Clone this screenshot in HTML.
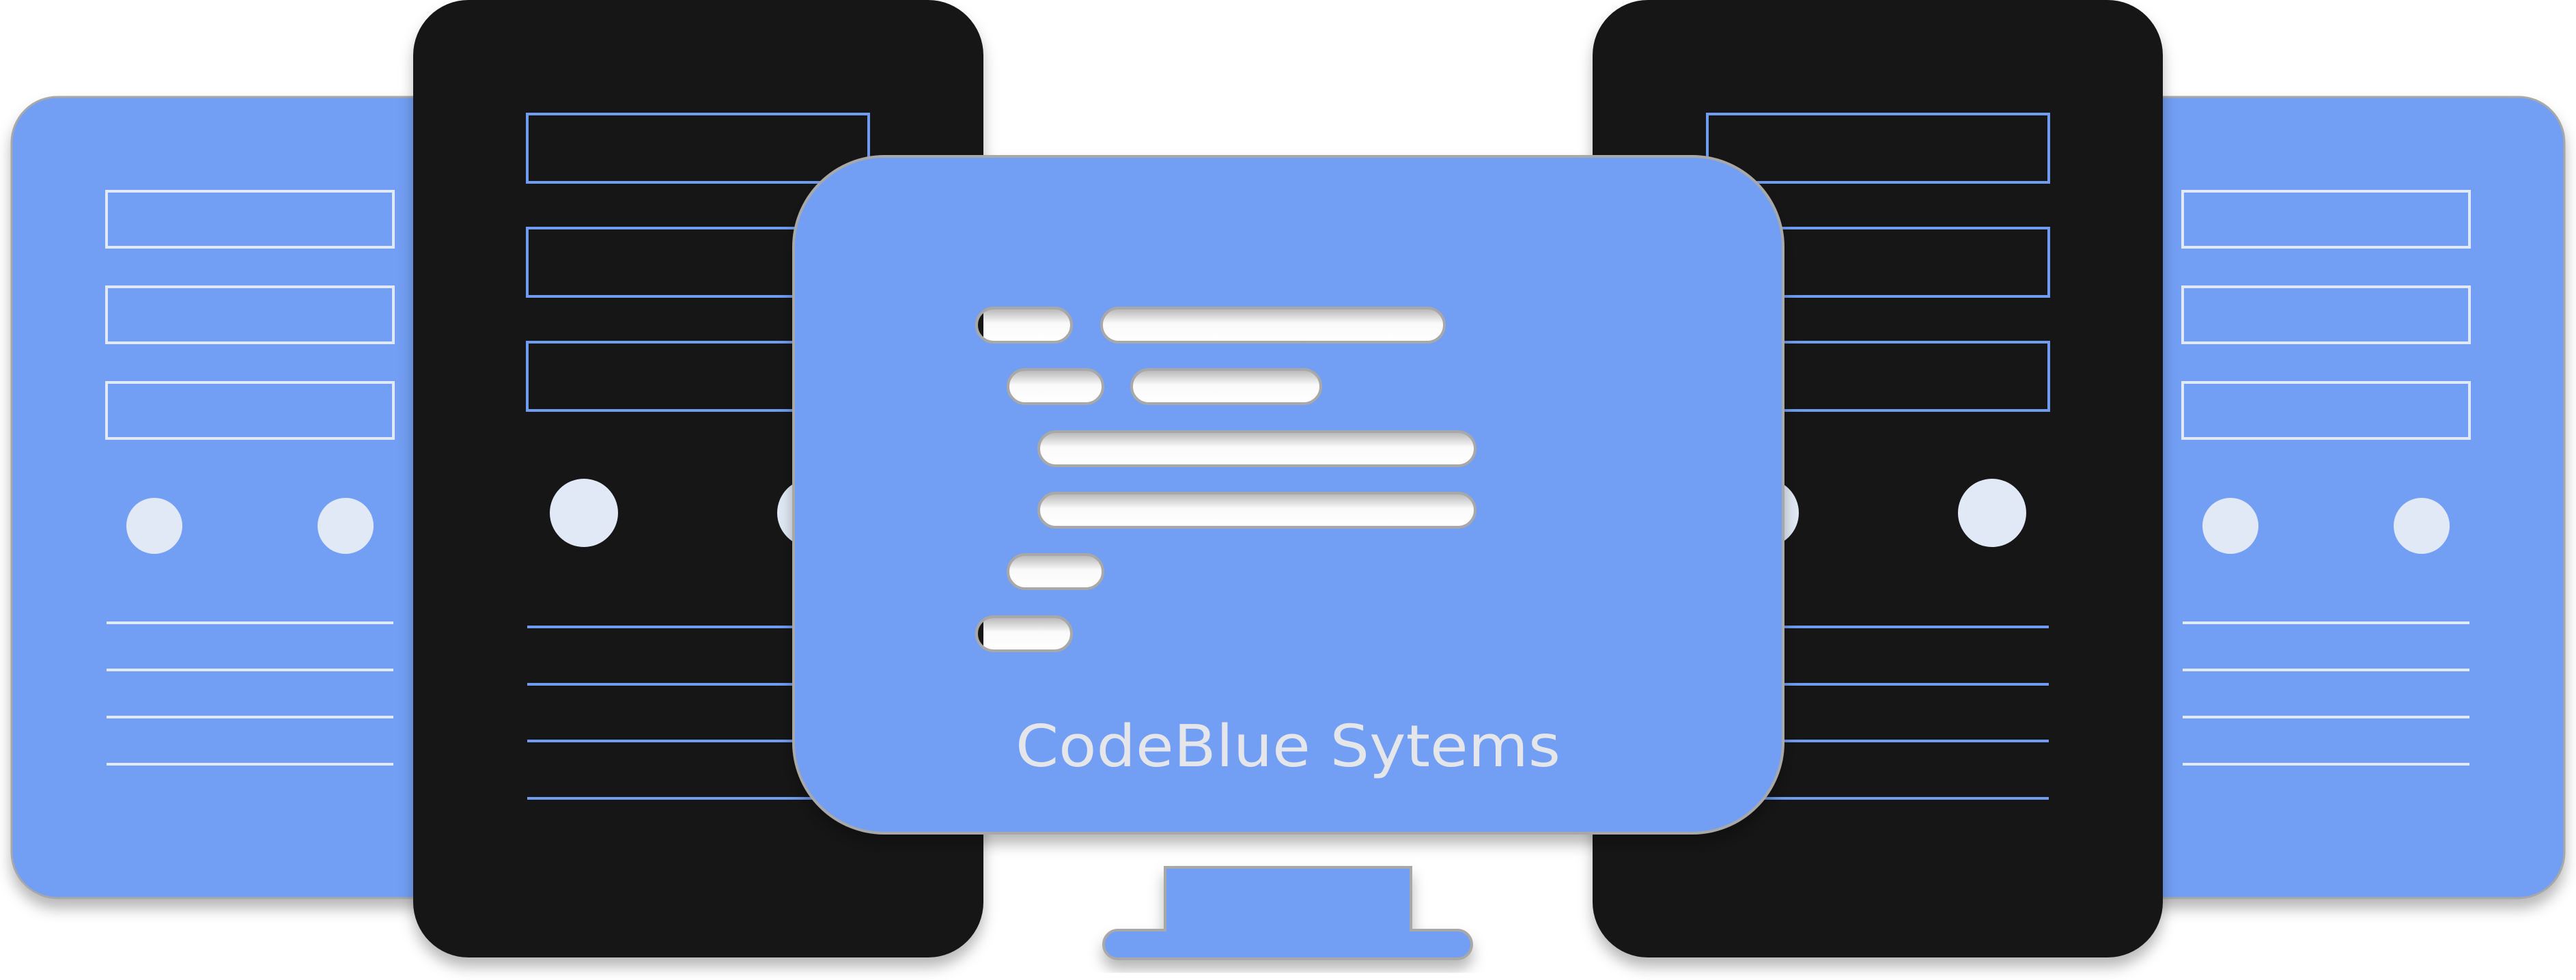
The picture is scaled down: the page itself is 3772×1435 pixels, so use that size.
<!DOCTYPE html>
<html><head><meta charset="utf-8"><style>
html,body{margin:0;padding:0;background:#fff;}
svg{display:block;}
</style></head><body>
<svg width="3772" height="1435" viewBox="0 0 3772 1435" xmlns="http://www.w3.org/2000/svg">
<defs>
<filter id="sh" x="-10%" y="-10%" width="120%" height="125%">
<feDropShadow dx="0" dy="14" stdDeviation="10" flood-color="#000" flood-opacity="0.28"/>
</filter>
<linearGradient id="pg" x1="0" y1="0" x2="0" y2="1">
<stop offset="0" stop-color="#b4b4b4"/>
<stop offset="0.45" stop-color="#fafafa"/>
<stop offset="1" stop-color="#ffffff"/>
</linearGradient>
<g id="side">
<rect x="17" y="142" width="700" height="1173" rx="67" fill="#729ef3" stroke="#a8a8a8" stroke-width="3" filter="url(#sh)"/>
<g fill="none" stroke="#e2e9f6" stroke-width="4">
<rect x="156" y="280" width="420" height="82"/>
<rect x="156" y="420" width="420" height="82"/>
<rect x="156" y="560" width="420" height="82"/>
</g>
<circle cx="226" cy="770" r="41" fill="#e1e9f6"/>
<circle cx="506" cy="770" r="41" fill="#e1e9f6"/>
<g stroke="#e2e9f6" stroke-width="4">
<line x1="156" y1="912" x2="576" y2="912"/>
<line x1="156" y1="981" x2="576" y2="981"/>
<line x1="156" y1="1050" x2="576" y2="1050"/>
<line x1="156" y1="1119" x2="576" y2="1119"/>
</g>
<rect x="605" y="0" width="835" height="1402" rx="81" fill="#171717" filter="url(#sh)"/>
<g fill="none" stroke="#6f9cf0" stroke-width="4">
<rect x="772" y="167" width="500" height="100"/>
<rect x="772" y="334" width="500" height="100"/>
<rect x="772" y="501" width="500" height="100"/>
</g>
<circle cx="855" cy="751" r="50" fill="#e1e9f6"/>
<circle cx="1188" cy="751" r="50" fill="#e1e9f6"/>
<g stroke="#6f9cf0" stroke-width="4">
<line x1="772" y1="918" x2="1272" y2="918"/>
<line x1="772" y1="1002" x2="1272" y2="1002"/>
<line x1="772" y1="1085" x2="1272" y2="1085"/>
<line x1="772" y1="1169" x2="1272" y2="1169"/>
</g>
</g>
<clipPath id="c1"><rect x="1430" y="451" width="139" height="50" rx="25"/></clipPath>
<clipPath id="c6"><rect x="1430" y="903" width="139" height="50" rx="25"/></clipPath>
</defs>

<use href="#side"/>
<use href="#side" transform="translate(3772,0) scale(-1,1)"/>

<g filter="url(#sh)">
<path d="M1706,1270 H2066 V1362 H2134 A21,21 0 0 1 2155,1383 A21,21 0 0 1 2134,1404 H1637 A21,21 0 0 1 1616,1383 A21,21 0 0 1 1637,1362 H1706 Z" fill="#729ef3" stroke="#a8a8a8" stroke-width="4"/>
</g>

<rect x="1162" y="229" width="1449" height="991" rx="133" fill="#729ef3" stroke="#a8a8a8" stroke-width="4" filter="url(#sh)"/>

<g stroke="#a8a8a8" stroke-width="4" fill="url(#pg)">
<rect x="1430" y="451" width="139" height="50" rx="25"/>
<rect x="1613" y="451" width="502" height="50" rx="25"/>
<rect x="1476" y="541" width="139" height="50" rx="25"/>
<rect x="1657" y="541" width="277" height="50" rx="25"/>
<rect x="1521" y="632" width="639" height="50" rx="25"/>
<rect x="1521" y="722" width="639" height="50" rx="25"/>
<rect x="1476" y="812" width="139" height="50" rx="25"/>
<rect x="1430" y="903" width="139" height="50" rx="25"/>
</g>
<rect x="1420" y="445" width="20" height="60" fill="#171717" clip-path="url(#c1)"/>
<rect x="1420" y="897" width="20" height="60" fill="#171717" clip-path="url(#c6)"/>
<g fill="none" stroke="#a8a8a8" stroke-width="4">
<rect x="1430" y="451" width="139" height="50" rx="25"/>
<rect x="1430" y="903" width="139" height="50" rx="25"/>
</g>

<text x="1487" y="1122" font-family="DejaVu Sans, sans-serif" font-size="85" fill="#e4e6ea" textLength="798" lengthAdjust="spacingAndGlyphs">CodeBlue Sytems</text>
</svg>
</body></html>
